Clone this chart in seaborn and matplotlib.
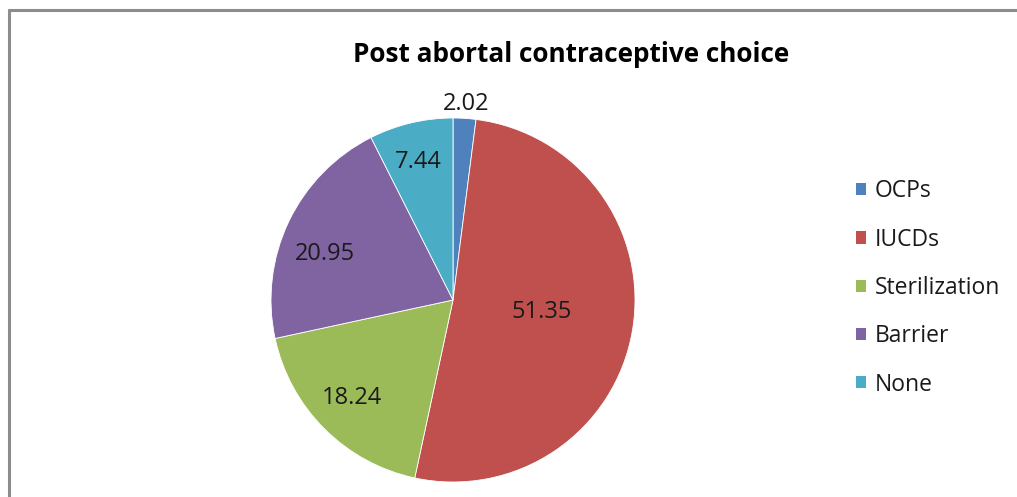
import matplotlib
matplotlib.use("Agg")
import matplotlib.pyplot as plt
import seaborn as sns
import numpy as np
from matplotlib.patches import Patch

categories = ["OCPs", "IUCDs", "Sterilization", "Barrier", "None"]
values = [2.02, 51.35, 18.24, 20.95, 7.44]
value_labels = ["2.02", "51.35", "18.24", "20.95", "7.44"]
colors = ["#4F81BD", "#C0504D", "#9BBB59", "#8064A2", "#4BACC6"]
# label placement style: radial distance and angular nudge (deg) from wedge mid-angle
label_dist = [1.095, 0.49, 0.763, 0.755, 0.80]
label_nudge = [0.0, 4.0, -1.8, 4.8, 0.4]

sns.set_theme(style="white")
plt.rcParams['font.family'] = ['Open Sans', 'DejaVu Sans']

W, H = 1017, 497
fig = plt.figure(figsize=(W / 100, H / 100), dpi=100)

# chart border (left and top visible)
fig.add_artist(plt.Line2D([8.5 / W, 8.5 / W], [0, 1 - 9.5 / H], color="#8c8c8c", lw=2.2,
                          transform=fig.transFigure))
fig.add_artist(plt.Line2D([8.5 / W, 1], [1 - 9.5 / H, 1 - 9.5 / H], color="#8c8c8c", lw=2.2,
                          transform=fig.transFigure))

cx, cy, r = 453, 300, 182
ax = fig.add_axes([(cx - r) / W, (H - cy - r) / H, 2 * r / W, 2 * r / H])
wedges, _ = ax.pie(values, colors=colors, startangle=90, counterclock=False,
                   wedgeprops=dict(linewidth=0.6, edgecolor="white"))
ax.set_xlim(-1, 1)
ax.set_ylim(-1, 1)
ax.set_aspect("equal")
ax.axis("off")

for w, lab, d, nd in zip(wedges, value_labels, label_dist, label_nudge):
    ang = np.deg2rad((w.theta1 + w.theta2) / 2 + nd)
    ax.text(d * np.cos(ang), d * np.sin(ang), lab, ha="center", va="center_baseline",
            fontsize=17, color="#1a1a1a", clip_on=False)

fig.text(571 / W, 1 - 54 / H, "Post abortal contraceptive choice", ha="center", va="center",
         fontsize=18.8, fontweight="bold", color="#000000")

handles = [Patch(facecolor=c, edgecolor="none") for c in colors]
leg = fig.legend(handles, categories, loc="center left", bbox_to_anchor=(856 / W, 1 - 288 / H),
                 frameon=False, fontsize=16.5, handlelength=0.44, handleheight=0.44,
                 handletextpad=0.38, labelspacing=1.06, borderaxespad=0, borderpad=0)
for t in leg.get_texts():
    t.set_color("#1a1a1a")

fig.savefig("out.png", dpi=100)
